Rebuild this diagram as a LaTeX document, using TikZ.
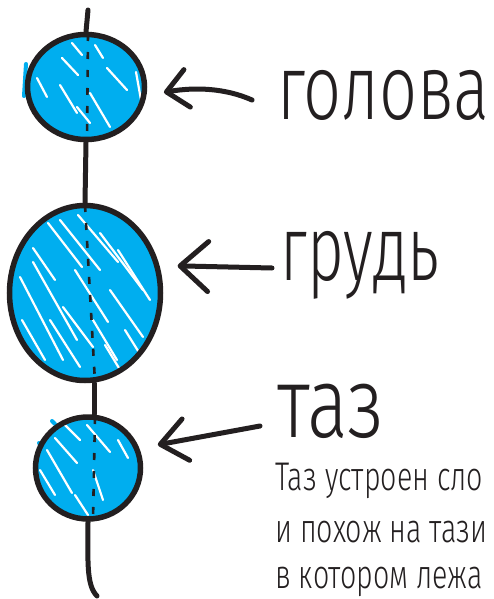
\documentclass[tikz,border=0pt]{standalone}
\usepackage{fontspec}
\newfontfamily\handA[FakeStretch=0.725]{Fira Sans Light}
\newfontfamily\handB[FakeStretch=0.69]{Fira Sans Light}
\newfontfamily\handC[FakeStretch=0.76]{Fira Sans Light}
\newfontfamily\handS[FakeStretch=0.715]{Fira Sans Light}
\usetikzlibrary{arrows.meta,shapes.geometric}
\definecolor{cyanb}{HTML}{00AEEF}
\definecolor{ink}{HTML}{231F20}
\begin{document}
\begin{tikzpicture}[x=1pt,y=-1pt,
  outline/.style={ellipse, draw=ink, line width=5.5pt, inner sep=0pt},
  spine/.style={draw=ink, line width=5pt, line cap=round},
  innerspine/.style={draw=ink, line width=2.6pt, dash pattern=on 7pt off 11pt},
  streak/.style={draw=white, line width=2.2pt, line cap=round},
  blob/.style={draw=cyanb, line width=4pt, line cap=round},
  arr/.style={draw=ink, line width=5pt, line cap=round},
  label/.style={text=ink, anchor=base west, inner sep=0pt},
  small/.style={font=\handS\fontsize{40}{40}\selectfont, text=ink, anchor=base west, inner sep=0pt}
]
\useasboundingbox (0,0) rectangle (493,599);
\clip (0,0) rectangle (493,599);
\fill[white] (0,0) rectangle (493,599);

% blue overflow marks
\draw[blob] (26,64) -- (24,96);
\draw[blob] (52,421) -- (55,424);
\draw[blob] (39,443) -- (42,447);

% head fill
\begin{scope}
\clip (86,87) ellipse [x radius=58.5, y radius=52.5];
\fill[cyanb] (86,87) ellipse [x radius=58.5, y radius=52.5];
\foreach \a/\b/\c/\d in {62/58/78/75, 72/43/82/55, 37/78/47/97, 60/85/77/113, 90/93/110/127,
  107/68/127/90, 77/107/90/123, 136/72/141/100, 95/45/103/58}
  \draw[streak] (\a,\b) -- (\c,\d);
\draw[innerspine] (88,34) -- (87,140);
\end{scope}

% chest fill
\begin{scope}
\clip (85,293) ellipse [x radius=75.5, y radius=87.5];
\fill[cyanb] (85,293) ellipse [x radius=75.5, y radius=87.5];
\foreach \a/\b/\c/\d in {33/248/55/280, 48/223/82/267, 20/277/63/360, 33/262/77/340, 60/220/100/270,
  100/233/143/290, 110/290/143/337, 63/307/93/347, 50/320/80/367, 93/320/117/360,
  78/215/118/262, 118/250/150/300, 125/330/150/370, 22/320/45/360, 75/270/108/322,
  130/220/160/262, 105/345/125/378}
  \draw[streak] (\a,\b) -- (\c,\d);
\draw[innerspine] (85,205) -- (95,382);
\end{scope}

% pelvis fill
\begin{scope}
\clip (88,468) ellipse [x radius=52.5, y radius=51];
\fill[cyanb] (88,468) ellipse [x radius=52.5, y radius=51];
\foreach \a/\b/\c/\d in {55/438/77/463, 47/450/72/493, 87/425/110/452, 93/470/103/500,
  65/425/80/440, 118/440/128/458, 40/470/55/495, 75/495/88/515}
  \draw[streak] (\a,\b) -- (\c,\d);
\draw[innerspine] (95,417) -- (93,520);
\end{scope}

% outlines
\node[outline, minimum width=117pt, minimum height=105pt] (head) at (86,87) {};
\node[outline, minimum width=151pt, minimum height=175pt] (chest) at (85,293) {};
\node[outline, minimum width=105pt, minimum height=102pt] (pelvis) at (88,468) {};

% spine
\coordinate (top) at (88,10);
\coordinate (bot) at (97,596);
\draw[spine] (top) -- (head.north);
\draw[spine] (head.south) -- (chest.north);
\draw[spine] ([xshift=9pt]chest.south) -- ([xshift=6pt]pelvis.north);
\draw[spine] (pelvis.south) .. controls (88,560) and (86,585) .. (bot);

% labels
\node[label, font=\handA\fontsize{92}{92}\selectfont] (lhead) at (277,120) {голова};
\node[label, font=\handB\fontsize{92}{92}\selectfont] (lchest) at (280,280) {грудь};
\node[label, font=\handC\fontsize{100}{100}\selectfont] (lpelvis) at (277,437) {таз};
\node[small] (note1) at (275,490) {Таз устроен сло};
\node[small] (note2) at (275,542) {и похож на тази};
\node[small] (note3) at (275,588) {в котором лежа};

% arrows
\coordinate (hs) at (252,100);
\coordinate (cs) at (272,268);
\coordinate (ps) at (260,426);
\draw[arr, -{Straight Barb[length=21pt,width=38pt,round]}] (hs) .. controls (225,88) and (195,87) .. ([xshift=17pt]head.-5);
\draw[arr, -{Straight Barb[length=28pt,width=50pt,round]}] (cs) -- ([xshift=18pt]chest.20);
\draw[arr, -{Straight Barb[length=26pt,width=42pt,round]}] (ps) -- ([xshift=20pt]pelvis.25);
\end{tikzpicture}
\end{document}
